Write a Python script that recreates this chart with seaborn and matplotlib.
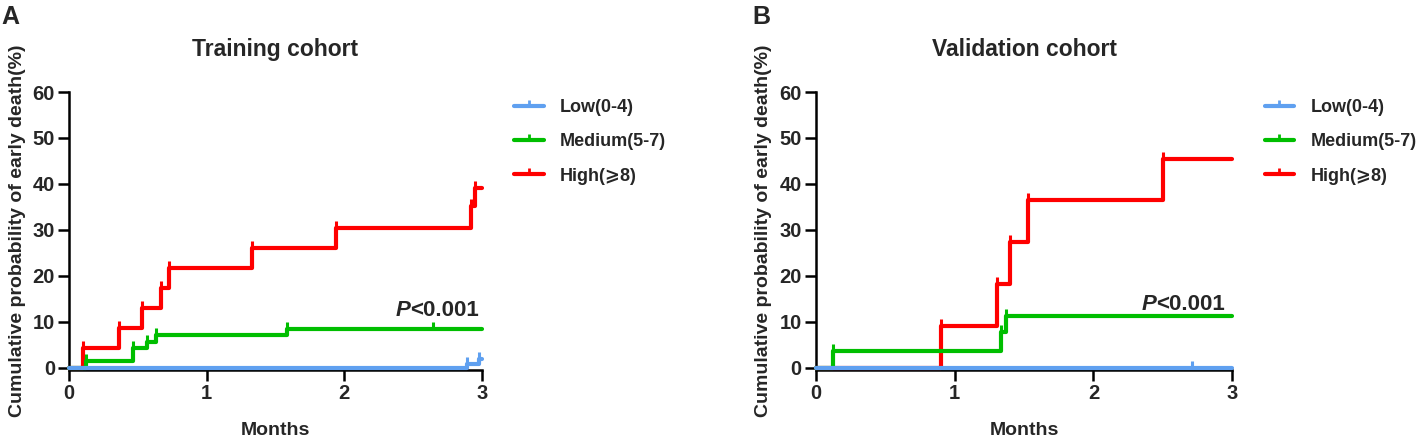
import matplotlib
matplotlib.use("Agg")
import matplotlib.pyplot as plt
from matplotlib.lines import Line2D
import seaborn as sns
import pandas as pd

# ---------------- data ----------------
groups = ["Low(0-4)", "Medium(5-7)", "High(\u2A7E8)"]
colors = ["#5FA0F0", "#00BE00", "#FF0000"]

# Training cohort (panel A)
a_low_t = [0.0, 2.89, 2.975, 3.0]
a_low_y = [0.0, 0.9, 1.8, 1.8]
a_med_t = [0.0, 0.121, 0.466, 0.567, 0.635, 1.585, 3.0]
a_med_y = [0.0, 1.45, 4.3, 5.7, 7.1, 8.5, 8.5]
a_high_t = [0.0, 0.10, 0.365, 0.527, 0.67, 0.73, 1.33, 1.94, 2.92, 2.947, 3.0]
a_high_y = [0.0, 4.35, 8.7, 13.0, 17.4, 21.7, 26.1, 30.4, 35.1, 39.2, 39.2]
a_censor_low = [2.89, 2.975]
a_censor_med = [0.121, 0.466, 0.567, 0.635, 1.585, 2.645]
a_censor_high = [0.10, 0.365, 0.527, 0.67, 0.73, 1.33, 1.94, 2.92, 2.947]

# Validation cohort (panel B)
b_low_t = [0.0, 3.0]
b_low_y = [0.0, 0.0]
b_med_t = [0.0, 0.127, 1.332, 1.37, 3.0]
b_med_y = [0.0, 3.7, 7.7, 11.2, 11.2]
b_high_t = [0.0, 0.902, 1.303, 1.399, 1.531, 2.503, 3.0]
b_high_y = [0.0, 9.1, 18.2, 27.3, 36.4, 45.5, 45.5]
b_censor_low = [2.707]
b_censor_med = [0.127, 1.332, 1.37]
b_censor_high = [0.902, 1.303, 1.399, 1.531, 2.503]

titles = ["Training cohort", "Validation cohort"]
panel_letters = ["A", "B"]
p_rest = "<0.001"
p_pos = [(2.98, 11.2), (2.95, 12.6)]
x_ticks = [0, 1, 2, 3]
y_ticks = [0, 10, 20, 30, 40, 50, 60]
xlabel = "Months"
ylabel = "Cumulative probability of early death(%)"

# ---------------- style ----------------
sns.set_theme(style="ticks")
plt.rcParams["font.family"] = ["Liberation Sans", "DejaVu Sans"]
plt.rcParams["font.weight"] = "bold"
plt.rcParams["axes.labelweight"] = "bold"

fig = plt.figure(figsize=(14.19, 4.38), dpi=100)
W, H = 1419.0, 438.0
ax_pos = [
    [69 / W, (H - 370) / H, 413 / W, 278 / H],
    [815.7 / W, (H - 370) / H, 416.6 / W, 278 / H],
]
letter_x = [1 / W, 752 / W]


def build_df(tl, yl):
    rows = []
    for g, t, y in zip(groups, tl, yl):
        for ti, yi in zip(t, y):
            rows.append({"time": ti, "prob": yi, "group": g})
    return pd.DataFrame(rows)


panels = [
    ([a_low_t, a_med_t, a_high_t], [a_low_y, a_med_y, a_high_y],
     [a_censor_low, a_censor_med, a_censor_high]),
    ([b_low_t, b_med_t, b_high_t], [b_low_y, b_med_y, b_high_y],
     [b_censor_low, b_censor_med, b_censor_high]),
]

for i, (tl, yl, cl) in enumerate(panels):
    ax = fig.add_axes(ax_pos[i])
    df = build_df(tl, yl)
    # draw high, medium, low (low on top)
    for gi in [2, 1, 0]:
        sub = df[df["group"] == groups[gi]]
        sns.lineplot(data=sub, x="time", y="prob", color=colors[gi],
                     drawstyle="steps-post", estimator=None, sort=False,
                     linewidth=3.0, ax=ax, legend=False,
                     clip_on=False, zorder=5 + (2 - gi))
        # censor ticks at current level
        ct = cl[gi]
        cy = []
        for c in ct:
            lvl = 0.0
            for ti, yi in zip(tl[gi], yl[gi]):
                if ti <= c + 1e-9:
                    lvl = yi
            cy.append(lvl)
        ax.plot(ct, cy, linestyle="none", marker=2, markersize=5,
                markeredgewidth=2.2, color=colors[gi], clip_on=False,
                zorder=5 + (2 - gi))

    ax.set_xlim(0, 3)
    ax.set_ylim(-0.5, 60)
    ax.set_xticks(x_ticks)
    ax.set_yticks(y_ticks)
    ax.set_xticklabels([str(v) for v in x_ticks], fontsize=14.5, fontweight="bold")
    ax.set_yticklabels([str(v) for v in y_ticks], fontsize=14.5, fontweight="bold")
    ax.tick_params(axis="both", length=8, width=1.8, color="black", pad=2)
    for s in ["top", "right"]:
        ax.spines[s].set_visible(False)
    for s in ["left", "bottom"]:
        ax.spines[s].set_linewidth(1.8)
        ax.spines[s].set_color("black")
    ax.spines["left"].set_bounds(0, 60)
    ax.set_xlabel(xlabel, fontsize=14, fontweight="bold", labelpad=14)
    ax.set_ylabel(ylabel, fontsize=14, fontweight="bold", labelpad=5)
    ax.set_title(titles[i], fontsize=16.5, fontweight="bold", pad=26)

    # "P<0.001" with italic P
    t_rest = ax.text(p_pos[i][0], p_pos[i][1], p_rest, fontsize=16,
                     fontweight="bold", ha="right", va="baseline", zorder=10)
    fig.canvas.draw()
    bb = t_rest.get_window_extent()
    inv = ax.transData.inverted()
    x_left = inv.transform((bb.x0, bb.y0))[0]
    ax.text(x_left, p_pos[i][1], "P", fontsize=16, fontweight="bold",
            fontstyle="italic", ha="right", va="baseline", zorder=10)

    handles = [Line2D([], [], color=colors[g], lw=3, marker=2, markersize=4.5,
                      markeredgewidth=2) for g in range(3)]
    ax.legend(handles, groups, loc="upper left", bbox_to_anchor=(1.06, 1.0),
              frameon=False, handlelength=1.65, handletextpad=0.9,
              labelspacing=0.95, borderaxespad=0, numpoints=1,
              prop={"weight": "bold", "size": 13})

    fig.text(letter_x[i], 1 - 24 / H, panel_letters[i], fontsize=18,
             fontweight="bold", ha="left", va="baseline")

fig.savefig("out.png", dpi=100)
